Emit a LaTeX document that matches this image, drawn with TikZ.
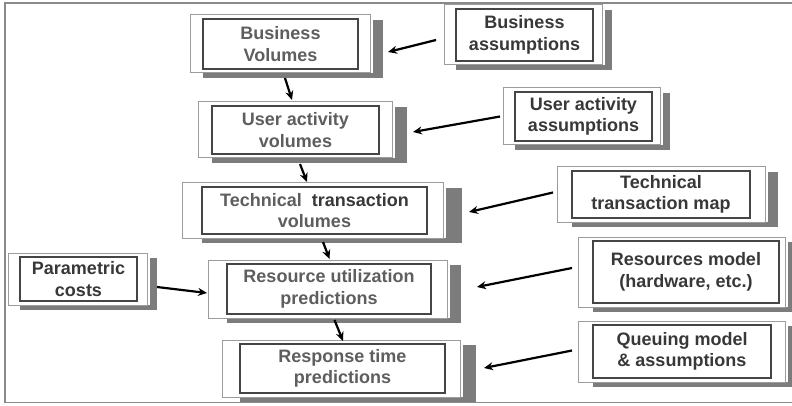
\documentclass[tikz,border=0pt]{standalone}
\usepackage{fontspec}
\setmainfont{Liberation Sans}
\usetikzlibrary{arrows.meta,calc}

\definecolor{framegray}{HTML}{8A8A8A}
\definecolor{shadowgray}{HTML}{7C7C7C}
\definecolor{edgegray}{HTML}{9C9C9C}
\definecolor{inkgray}{HTML}{454545}
\definecolor{softtext}{HTML}{5E5E5E}
\definecolor{darktext}{HTML}{383838}

\tikzset{
  outerbox/.style={draw=edgegray, line width=1pt, fill=white, inner sep=0pt, outer sep=0pt},
  innerbox/.style={draw=inkgray, line width=1.3pt, fill=white, inner sep=0pt, outer sep=0pt,
    font=\fontsize{18}{21.5}\selectfont\bfseries, align=center, text=softtext},
  shadowbar/.style={fill=shadowgray},
  flow/.style={draw=black, line width=2.2pt, -{Stealth[length=9pt,width=8pt]}},
}

% panel: name, x1, y1, x2, y2 (outer frame), inner left, inner right, shadow right edge, text
\newcommand\panel[9]{%
  \fill[shadowbar] ({#4+3},{#3+5}) rectangle (#8,{#5+5});
  \fill[shadowbar] (#6,#5) rectangle (#8,{#5+5});
  \node[outerbox, minimum width={(#4-#2)*1pt}, minimum height={(#5-#3)*1pt}]
    (#1-o) at ({(#2+#4)/2},{(#3+#5)/2}) {};
  \node[innerbox, minimum width={(#7-#6)*1pt}, minimum height={(#5-#3-8)*1pt}]
    (#1) at ({(#6+#7)/2},{(#3+#5)/2}) {#9};
}

\begin{document}
\begin{tikzpicture}[x=1pt, y=-1pt]
\useasboundingbox (0,0) rectangle (792,406);

% outer frame
\draw[framegray, line width=1.5pt] (792,3) -- (5,3) -- (5,402.5) -- (792,402.5);

% main chain
\panel{bv}{190}{15}{370}{73}{203}{358}{383}{Business\\Volumes}
\panel{uv}{198}{102}{392}{158}{212}{379}{407}{User activity\\volumes}
\panel{tv}{182}{183}{443}{238}{202}{427}{462}{Technical\ \ \textcolor{darktext}{transaction}\\volumes}
\panel{ru}{208}{260}{447}{318}{227}{431}{461}{Resource utilization\\predictions}
\panel{rt}{222}{340}{460}{397}{240}{445}{476}{Response time\\predictions}

% inputs
\begin{scope}[innerbox/.append style={text=darktext}]
\panel{ba}{444}{5}{602}{65}{456}{593}{612}{Business\\assumptions}
\panel{ua}{503}{88}{660}{145}{515}{652}{670}{User activity\\assumptions}
\panel{tm}{557}{167}{765}{222}{572}{750}{778}{Technical\\transaction map}
\panel{pc}{8}{253}{147}{305}{20}{137}{157}{Parametric\\costs}
\panel{rm}{578}{237}{785}{307}{593}{779}{798}{Resources model\\(hardware, etc.)}
\panel{qm}{578}{321}{785}{382}{593}{771}{797}{Queuing model\\\& assumptions}
\end{scope}

% connectors
\draw[flow] ($(ba-o.west)+(-8,5)$) -- ($(bv-o.east)+(18,8)$);
\draw[flow] ($(bv-o.south)+(5,5)$) -- ($(uv-o.north)+(-3,-2)$);
\draw[flow] ($(ua-o.west)+(-3,0)$) -- ($(uv-o.east)+(21,2)$);
\draw[flow] ($(uv-o.south)+(5,6)$) -- ($(tv-o.north)+(-5.5,-1)$);
\draw[flow] ($(tm-o.west)+(-4,-2)$) -- ($(tv-o.east)+(26,1.5)$);
\draw[flow] ($(tv-o.south)+(10.5,4)$) -- ($(ru-o.north)+(2,-1)$);
\draw[flow] ($(pc-o.east)+(10,8)$) -- ($(ru-o.west)+(-1,4)$);
\draw[flow] ($(rm-o.west)+(-6,-4)$) -- ($(ru-o.east)+(30,-2)$);
\draw[flow] ($(ru-o.south)+(7,2)$) -- ($(rt-o.north)+(2,1)$);
\draw[flow] ($(qm-o.west)+(-6,-1)$) -- ($(rt-o.east)+(24,-0.5)$);
\end{tikzpicture}
\end{document}
